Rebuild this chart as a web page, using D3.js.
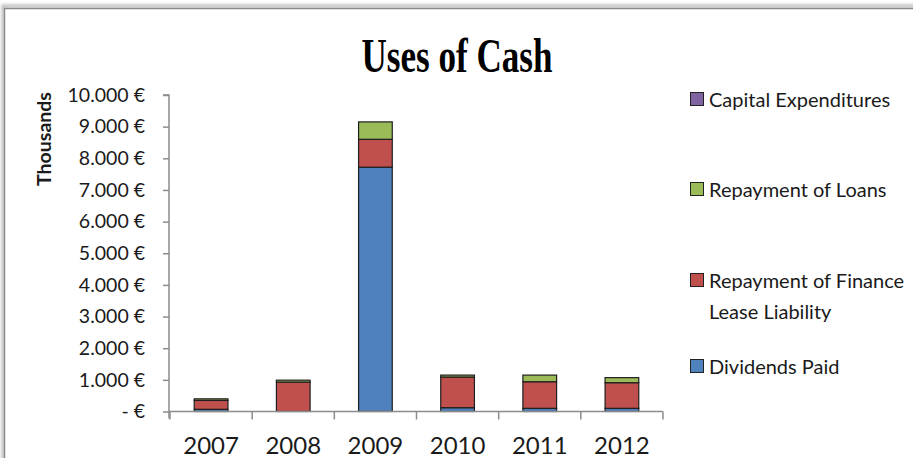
<!DOCTYPE html>
<html>
<head>
<meta charset="utf-8">
<script src="https://cdn.jsdelivr.net/npm/d3@7"></script>
<style>
  html, body { margin: 0; padding: 0; background: #fff; }
  svg { display: block; }
</style>
</head>
<body>
<svg id="chart" width="913" height="458"></svg>
<script>
// Uses of cash per year, in thousands of euro
const years = ["2007", "2008", "2009", "2010", "2011", "2012"];
const dividendsPaid = [70, 0, 7720, 120, 100, 100];
const financeLeaseRepayment = [280, 930, 880, 970, 840, 810];
const loanRepayment = [50, 60, 550, 60, 210, 160];
const capitalExpenditures = [0, 0, 0, 0, 0, 0];

const seriesNames = ["Dividends Paid", "Repayment of Finance Lease Liability", "Repayment of Loans", "Capital Expenditures"];
const seriesColors = ["#4F81BD", "#C0504D", "#9BBB59", "#8064A2"];
const yTickValues = [0, 1000, 2000, 3000, 4000, 5000, 6000, 7000, 8000, 9000, 10000];

const svg = d3.select("#chart");
const plot = { left: 170, right: 663, top: 95, bottom: 411.5 };
const font = "Lato, 'Open Sans', sans-serif";

// chart frame (top and left edges visible)
const defs = svg.append("defs");
defs.append("filter").attr("id", "soft")
  .append("feGaussianBlur").attr("stdDeviation", 1.5);
svg.append("rect")
  .attr("x", 3).attr("y", 6).attr("width", 1000).attr("height", 1000)
  .attr("fill", "none").attr("stroke", "#b8b8b8").attr("stroke-width", 3)
  .attr("filter", "url(#soft)");
svg.append("rect")
  .attr("x", 4.5).attr("y", 8.5).attr("width", 1000).attr("height", 1000)
  .attr("fill", "#fff").attr("stroke", "#8a8a8a").attr("stroke-width", 1.5);

// stacked layout
const table = years.map((y, i) => ({
  year: y,
  "Dividends Paid": dividendsPaid[i],
  "Repayment of Finance Lease Liability": financeLeaseRepayment[i],
  "Repayment of Loans": loanRepayment[i],
  "Capital Expenditures": capitalExpenditures[i]
}));
const stacked = d3.stack().keys(seriesNames)(table);

const x = d3.scaleBand().domain(years)
  .range([plot.left, plot.right]).paddingInner(0.59).paddingOuter(0.295);
const y = d3.scaleLinear().domain([0, 10000]).range([plot.bottom, plot.top]);
const color = d3.scaleOrdinal().domain(seriesNames).range(seriesColors);

// y axis
const yFmt = v => v === 0 ? "- €" : d3.format(",")(v).replace(/,/g, ".") + " €";
const yAxis = svg.append("g")
  .attr("transform", `translate(${plot.left - 1},0)`)
  .call(d3.axisLeft(y).tickValues(yTickValues).tickFormat(yFmt).tickSize(6).tickPadding(18));
yAxis.select(".domain").attr("stroke", "#8c8c8c").attr("stroke-width", 1.5)
  .attr("d", `M-6,${plot.top}H0V${plot.bottom + 7}`);
yAxis.selectAll(".tick line").attr("stroke", "#8c8c8c").attr("stroke-width", 1.5);
yAxis.selectAll(".tick text")
  .attr("font-family", font).attr("font-size", 19.5).attr("fill", "#1a1a1a");

// bars
svg.append("g").selectAll("g").data(stacked).join("g")
  .attr("fill", d => color(d.key))
  .selectAll("rect").data(d => d).join("rect")
  .attr("x", d => x(d.data.year))
  .attr("width", x.bandwidth())
  .attr("y", d => y(d[1]))
  .attr("height", d => Math.max(0, y(d[0]) - y(d[1])))
  .attr("stroke", "#1e1e1e")
  .attr("stroke-width", d => (d[1] - d[0]) > 0 ? 1.2 : 0);

// x axis: baseline, boundary ticks, labels
const xAxis = svg.append("g");
xAxis.append("line")
  .attr("x1", plot.left - 1).attr("x2", plot.right)
  .attr("y1", plot.bottom).attr("y2", plot.bottom)
  .attr("stroke", "#8c8c8c").attr("stroke-width", 1.5);
const step = x.step();
const boundaries = years.map(yr => x(yr) - step * x.paddingInner() / 2).concat([plot.right]);
xAxis.selectAll("line.b").data(boundaries).join("line")
  .attr("class", "b")
  .attr("x1", d => d).attr("x2", d => d)
  .attr("y1", plot.bottom).attr("y2", plot.bottom + 8)
  .attr("stroke", "#8c8c8c").attr("stroke-width", 1.5);
xAxis.selectAll("text").data(years).join("text")
  .attr("x", d => x(d) + x.bandwidth() / 2)
  .attr("y", 454)
  .attr("text-anchor", "middle")
  .attr("font-family", font).attr("font-size", 24).attr("fill", "#1a1a1a")
  .text(d => d);

// title
svg.append("text")
  .attr("x", 457).attr("y", 72)
  .attr("text-anchor", "middle")
  .attr("font-family", "'Liberation Serif', 'Times New Roman', serif")
  .attr("font-weight", "bold").attr("font-size", 48)
  .attr("textLength", 191).attr("lengthAdjust", "spacingAndGlyphs")
  .attr("fill", "#000")
  .text("Uses of Cash");

// y axis title
svg.append("text")
  .attr("transform", "translate(51,139) rotate(-90)")
  .attr("text-anchor", "middle")
  .attr("font-family", font).attr("font-weight", "bold").attr("font-size", 19.5)
  .attr("fill", "#1a1a1a")
  .text("Thousands");

// legend (top entry is the top of the stack)
const legendRows = [
  { key: "Capital Expenditures", lines: ["Capital Expenditures"], y: 99 },
  { key: "Repayment of Loans", lines: ["Repayment of Loans"], y: 189 },
  { key: "Repayment of Finance Lease Liability", lines: ["Repayment of Finance", "Lease Liability"], y: 280 },
  { key: "Dividends Paid", lines: ["Dividends Paid"], y: 366 }
];
const legend = svg.append("g");
const row = legend.selectAll("g").data(legendRows).join("g")
  .attr("transform", d => `translate(690,${d.y})`);
row.append("rect")
  .attr("x", 0.5).attr("y", -6.5).attr("width", 13).attr("height", 13)
  .attr("fill", d => color(d.key)).attr("stroke", "#222").attr("stroke-width", 1);
row.each(function (d) {
  const t = d3.select(this).append("text")
    .attr("font-family", font).attr("font-size", 20).attr("fill", "#1a1a1a");
  d.lines.forEach((ln, i) => {
    t.append("tspan").attr("x", 19).attr("y", 8 + i * 31).text(ln);
  });
});
</script>
</body>
</html>
